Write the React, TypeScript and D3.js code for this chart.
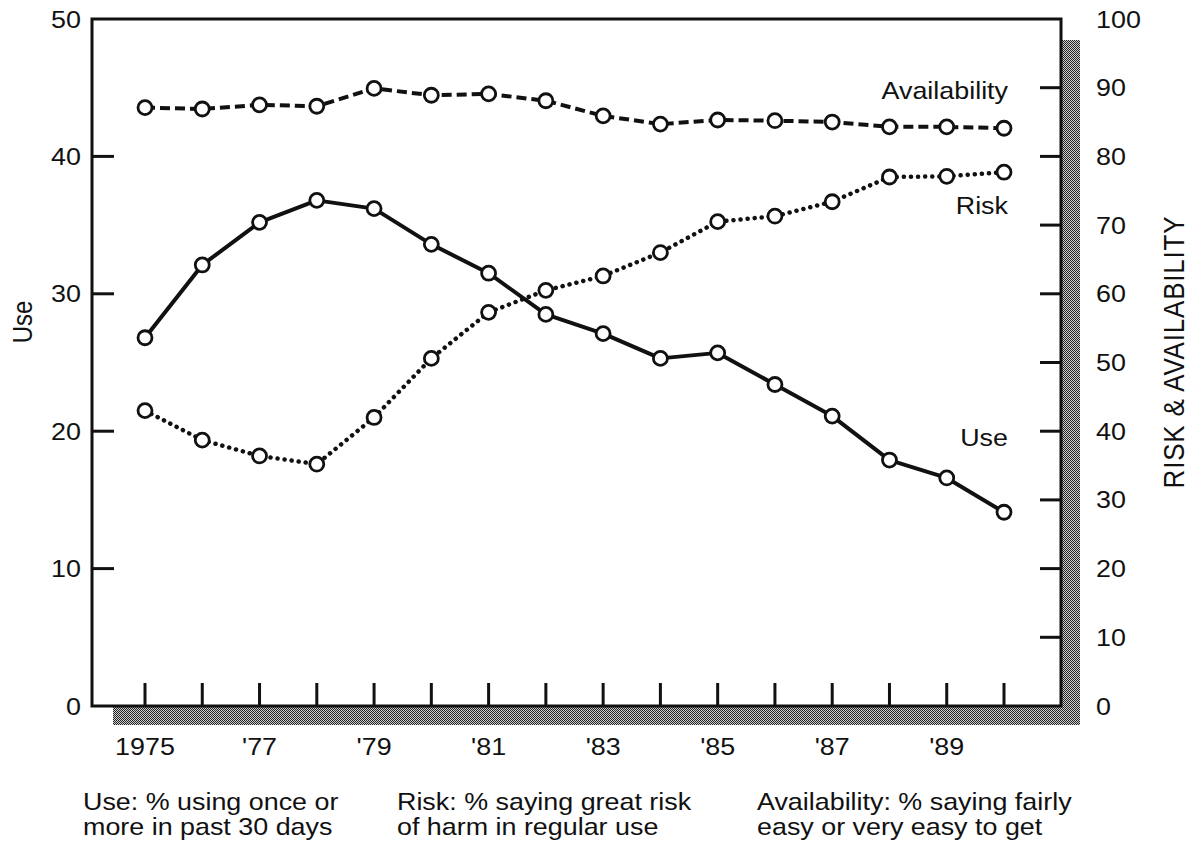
import { scaleLinear, line, range } from "d3";

const years = range(1975, 1991);
const useValues = [26.8, 32.1, 35.2, 36.8, 36.2, 33.6, 31.5, 28.5, 27.1, 25.3, 25.7, 23.4, 21.1, 17.9, 16.6, 14.1];
const riskValues = [43.0, 38.7, 36.4, 35.2, 42.0, 50.6, 57.3, 60.5, 62.6, 66.0, 70.5, 71.3, 73.4, 77.0, 77.1, 77.7];
const availValues = [87.1, 86.9, 87.5, 87.3, 89.9, 88.9, 89.1, 88.1, 85.9, 84.7, 85.3, 85.2, 85.0, 84.3, 84.3, 84.1];

const leftTicks = [0, 10, 20, 30, 40, 50];
const rightTicks = [0, 10, 20, 30, 40, 50, 60, 70, 80, 90, 100];
const yearLabels = ["1975", "'77", "'79", "'81", "'83", "'85", "'87", "'89"];
const captions = [
  ["Use: % using once or", "more in past 30 days"],
  ["Risk: % saying great risk", "of harm in regular use"],
  ["Availability: % saying fairly", "easy or very easy to get"],
];

const FONT = "'Liberation Sans', Arial, Helvetica, sans-serif";
const SX = 1.12; // the scan is stretched a bit horizontally

const frame = { left: 92, right: 1061, top: 19, bottom: 706 };

function Txt(props: { x: number; y: number; anchor?: string; size?: number; rotate?: boolean; spacing?: number; children: any }) {
  const { x, y, anchor = "start", size = 24, rotate = false, spacing = 0 } = props;
  const tr = rotate
    ? `translate(${x},${y}) rotate(-90) scale(1,${SX})`
    : `translate(${x},${y}) scale(${SX},1)`;
  return (
    <text transform={tr} textAnchor={anchor} fontSize={size} fontFamily={FONT} fill="#111" letterSpacing={spacing}>
      {props.children}
    </text>
  );
}

export default function App() {
  const x = scaleLinear().domain([1975, 1990]).range([145, 1004]);
  const yL = scaleLinear().domain([0, 50]).range([frame.bottom, frame.top]);
  const yR = scaleLinear().domain([0, 100]).range([frame.bottom, frame.top]);

  const useLine = line<number>().x((_, i) => x(years[i])).y(d => yL(d));
  const rLine = line<number>().x((_, i) => x(years[i])).y(d => yR(d));

  const series = [
    { vals: useValues, d: useLine(useValues), y: yL, dash: undefined, cap: "butt", w: 4 },
    { vals: riskValues, d: rLine(riskValues), y: yR, dash: "0.1 7", cap: "round", w: 4.5 },
    { vals: availValues, d: rLine(availValues), y: yR, dash: "10 5", cap: "butt", w: 4 },
  ];

  const shadowX = 1080;
  const shadowY = 725;

  return (
    <svg width={1192} height={849} style={{ position: "absolute", left: 0, top: 0, background: "#fff" }}>
      <defs>
        <pattern id="dots" width={2} height={2} patternUnits="userSpaceOnUse">
          <rect width={2} height={2} fill="#d0d0d0" />
          <rect width={1} height={1} fill="#222" />
          <rect x={1} y={1} width={1} height={1} fill="#222" />
        </pattern>
      </defs>

      {/* drop shadow */}
      <rect x={113} y={frame.bottom} width={shadowX - 113} height={shadowY - frame.bottom} fill="url(#dots)" />
      <rect x={frame.right} y={40} width={shadowX - frame.right} height={shadowY - 40} fill="url(#dots)" />

      {/* frame */}
      <rect x={frame.left} y={frame.top} width={frame.right - frame.left} height={frame.bottom - frame.top}
        fill="#fff" stroke="#111" strokeWidth={3} />

      {/* left ticks */}
      {leftTicks.filter(t => t > 0 && t < 50).map(t => (
        <line key={"lt" + t} x1={frame.left} x2={frame.left + 22} y1={yL(t)} y2={yL(t)} stroke="#111" strokeWidth={3} />
      ))}
      {leftTicks.map(t => (
        <Txt key={"ll" + t} x={81} y={yL(t) + 8.5} anchor="end">{t}</Txt>
      ))}

      {/* right ticks */}
      {rightTicks.filter(t => t > 0 && t < 100).map(t => (
        <line key={"rt" + t} x1={frame.right - 21} x2={frame.right} y1={yR(t)} y2={yR(t)} stroke="#111" strokeWidth={3} />
      ))}
      {rightTicks.map(t => (
        <Txt key={"rl" + t} x={1096} y={yR(t) + 8.5}>{t}</Txt>
      ))}

      {/* bottom ticks */}
      {years.map(yr => (
        <line key={"bt" + yr} x1={x(yr)} x2={x(yr)} y1={frame.bottom} y2={frame.bottom - 23} stroke="#111" strokeWidth={3} />
      ))}
      {yearLabels.map((lab, i) => (
        <Txt key={"yl" + lab} x={x(1975 + i * 2)} y={755} anchor="middle">{lab}</Txt>
      ))}

      {/* axis titles */}
      <Txt x={32} y={322} anchor="middle" rotate>Use</Txt>
      <Txt x={1184} y={352} anchor="middle" rotate size={26} spacing={0.8}>RISK &amp; AVAILABILITY</Txt>

      {/* series */}
      {series.map((s, i) => (
        <g key={"s" + i}>
          <path d={s.d ?? ""} fill="none" stroke="#111" strokeWidth={s.w} strokeDasharray={s.dash}
            strokeLinecap={s.cap as any} strokeLinejoin="round" />
          {s.vals.map((v, j) => (
            <circle key={j} cx={x(years[j])} cy={s.y(v)} r={7} fill="#fff" stroke="#111" strokeWidth={2.8} />
          ))}
        </g>
      ))}

      {/* in-plot labels */}
      <Txt x={1008} y={99} anchor="end">Availability</Txt>
      <Txt x={1008} y={214} anchor="end">Risk</Txt>
      <Txt x={1008} y={446} anchor="end">Use</Txt>

      {/* captions */}
      {captions.map((c, i) => (
        <g key={"c" + i}>
          {c.map((t, k) => (
            <Txt key={k} x={[83, 397, 757][i]} y={810 + k * 25}>{t}</Txt>
          ))}
        </g>
      ))}
    </svg>
  );
}
